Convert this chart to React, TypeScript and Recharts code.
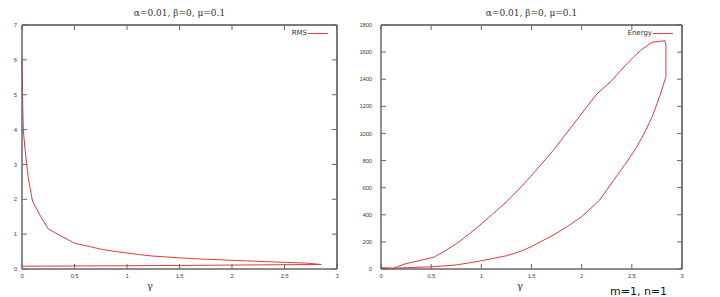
import { LineChart, Line, XAxis, YAxis, CartesianGrid, ReferenceLine } from 'recharts'

// gamma / value pairs, in the order the curve is traced
const rmsGamma = [0, 0.005, 0.012, 0.03, 0.06, 0.1, 0.17, 0.25, 0.37, 0.5, 0.62, 0.75, 0.87, 1.0, 1.12, 1.25, 1.5, 1.75, 2.0, 2.25, 2.5, 2.7, 2.85, 1.4, 0]
const rmsValue = [6.05, 5.0, 4.0, 3.4, 2.6, 1.95, 1.55, 1.15, 0.95, 0.74, 0.66, 0.57, 0.51, 0.46, 0.41, 0.37, 0.32, 0.28, 0.25, 0.22, 0.19, 0.17, 0.13, 0.1, 0.08]

const energyGamma = [0, 0.12, 0.25, 0.4, 0.53, 0.65, 0.76, 0.88, 1.0, 1.12, 1.25, 1.37, 1.49, 1.6, 1.72, 1.82, 1.92, 2.05, 2.15, 2.3, 2.42, 2.52, 2.6, 2.7, 2.83, 2.84, 2.84, 2.78, 2.71, 2.63, 2.55, 2.45, 2.32, 2.18, 2.0, 1.85, 1.72, 1.6, 1.5, 1.37, 1.25, 1.12, 1.0, 0.88, 0.75, 0.52, 0.25, 0.12, 0]
const energyValue = [10, 5, 40, 65, 88, 140, 190, 260, 332, 410, 496, 585, 681, 775, 878, 975, 1070, 1195, 1290, 1390, 1490, 1566, 1620, 1672, 1684, 1650, 1418, 1280, 1136, 1010, 902, 790, 656, 509, 386, 310, 251, 205, 165, 125, 98, 78, 61, 45, 30, 17, 10, 5, 5]

const gammaTicks = [0, 0.5, 1, 1.5, 2, 2.5, 3]
const rmsTicks = [0, 1, 2, 3, 4, 5, 6, 7]
const energyTicks = [0, 200, 400, 600, 800, 1000, 1200, 1400, 1600, 1800]

const title = 'α=0.01, β=0, μ=0.1'

const rmsData = rmsGamma.map((g, i) => ({ g, v: rmsValue[i] }))
const energyData = energyGamma.map((g, i) => ({ g, v: energyValue[i] }))

const RED = '#e23a3a'
const AXIS = '#666'
const tickStyle = { fontSize: 6, fill: '#444', fontFamily: 'Liberation Sans', letterSpacing: -0.2 }
const noLabel = () => <g />

type PanelProps = {
  data: { g: number; v: number }[]
  yTicks: number[]
  yMax: number
  yWidth: number
  yMargin: number
  right: number
  legend: string
  gammaX: number
}

function Panel({ data, yTicks, yMax, yWidth, yMargin, right, legend, gammaX }: PanelProps) {
  const plotLeft = yWidth
  const plotRight = 360 - right - 1
  return (
    <div style={{ position: 'relative', width: 360, height: 297 }}>
      <LineChart width={360} height={297} data={data} margin={{ top: 24, right, bottom: 0, left: 0 }}>
        {/* gnuplot-style frame */}
        <CartesianGrid horizontalValues={[0, yMax]} verticalValues={[0, 3]} stroke={AXIS} strokeDasharray="" />
        <XAxis dataKey="g" type="number" domain={[0, 3]} ticks={gammaTicks} height={28}
          stroke={AXIS} tickSize={-5} tickMargin={10} tick={tickStyle} />
        <XAxis xAxisId="top" orientation="top" dataKey="g" type="number" domain={[0, 3]} ticks={gammaTicks}
          height={1} stroke={AXIS} tickSize={-5} tick={noLabel} />
        <YAxis dataKey="v" type="number" domain={[0, yMax]} ticks={yTicks} width={yWidth}
          stroke={AXIS} tickSize={-5} tickMargin={yMargin} tick={tickStyle} />
        <YAxis yAxisId="right" orientation="right" type="number" domain={[0, yMax]} ticks={yTicks}
          width={1} stroke={AXIS} tickSize={-5} tick={noLabel} />
        <ReferenceLine y={yMax} stroke={AXIS} strokeWidth={1} ifOverflow="visible" />
        <ReferenceLine x={3} stroke={AXIS} strokeWidth={1} ifOverflow="visible" />
        <Line xAxisId="top" yAxisId="right" dataKey="v" type="linear" stroke="none" dot={false} isAnimationActive={false} />
        <Line dataKey="v" type="linear" stroke={RED} strokeWidth={1} dot={false} isAnimationActive={false} />
      </LineChart>
      <div style={{ position: 'absolute', top: 8, left: plotLeft, width: plotRight - plotLeft, textAlign: 'center',
        fontFamily: 'DejaVu Serif', fontSize: 9, color: '#333' }}>{title}</div>
      <div style={{ position: 'absolute', top: 29, right: right + 31, fontFamily: 'DejaVu Sans', fontSize: 7, color: '#333' }}>
        {legend}
      </div>
      <div style={{ position: 'absolute', top: 33, left: plotRight - 29, width: 20, borderTop: `1px solid ${RED}` }} />
      <div style={{ position: 'absolute', top: 280, left: gammaX,
        fontFamily: 'DejaVu Serif', fontSize: 10, color: '#333' }}>γ</div>
    </div>
  )
}

export default function App() {
  return (
    <div style={{ position: 'absolute', left: 0, top: 0, width: 720, height: 297, background: '#fff', display: 'flex' }}>
      <Panel data={rmsData} yTicks={rmsTicks} yMax={7} yWidth={22} yMargin={10} right={22} legend="RMS" gammaX={147} />
      <Panel data={energyData} yTicks={energyTicks} yMax={1800} yWidth={21} yMargin={14} right={37} legend="Energy" gammaX={157} />
      <div style={{ position: 'absolute', left: 610, top: 285, fontFamily: 'DejaVu Sans', fontSize: 11, color: '#111' }}>
        m=1, n=1
      </div>
    </div>
  )
}
